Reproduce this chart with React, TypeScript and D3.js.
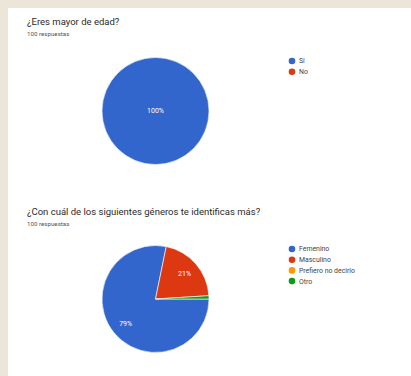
import React from "react";
import * as d3 from "d3";

const q1Categories = ["Sí", "No"];
const q1Values = [100, 0];
const q2Categories = ["Femenino", "Masculino", "Prefiero no decirlo", "Otro"];
const q2Values = [79, 21, 0, 1];
const colors = ["#3366cc", "#dc3912", "#ff9900", "#109618"];

const W = 411;
const H = 376;
const FONT = "Roboto, sans-serif";

export default function App() {
  return (
    <svg width={W} height={H} style={{ position: "absolute", left: 0, top: 0 }}>
      <rect width={W} height={H} fill="#ece6d9" />
      <rect x={8} y={8} width={W - 8} height={H - 8} fill="#ffffff" />
      <text x={27} y={25} fontSize={9.5} fill="#2a2a2a" fontFamily={FONT}>¿Eres mayor de edad?</text>
      <text x={27} y={36} fontSize={6.2} fill="#555" fontFamily={FONT}>100 respuestas</text>
      <g transform="translate(155.5,111)">
        <PieInner vals={q1Values} r={53.5} />
      </g>
      <Legend cats={q1Categories} y={61} />
      <text x={27} y={215} fontSize={9.5} fill="#2a2a2a" fontFamily={FONT}>¿Con cuál de los siguientes géneros te identificas más?</text>
      <text x={27} y={226} fontSize={6.2} fill="#555" fontFamily={FONT}>100 respuestas</text>
      <g transform="translate(155.5,299)">
        <PieInner vals={q2Values} r={53.5} />
      </g>
      <Legend cats={q2Categories} y={249} />
    </svg>
  );
}

function PieInner({ vals, r }: any) {
  const pie = d3.pie<number>().sort(null).startAngle(Math.PI / 2).endAngle(Math.PI / 2 + 2 * Math.PI);
  const arcs = pie(vals);
  const arc = d3.arc<any>().innerRadius(0).outerRadius(r);
  const labelArc = d3.arc<any>().innerRadius(r * 0.72).outerRadius(r * 0.72);
  const total = d3.sum(vals);
  return (
    <g>
      {arcs.map((a, i) =>
        a.value > 0 ? (
          <path key={i} d={arc(a) as string} fill={colors[i]} stroke="#fff" strokeWidth={0.6} />
        ) : null
      )}
      {arcs.map((a, i) => {
        if (a.value / total < 0.05) return null;
        const full = a.value === total;
        const [x, y] = full ? [0, 0] : labelArc.centroid(a);
        return (
          <text key={"l" + i} x={x} y={y} dy="0.35em" textAnchor="middle" fill="#fff" fontSize={7} fontFamily={FONT}>
            {a.value + "%"}
          </text>
        );
      })}
    </g>
  );
}

function Legend({ cats, y }: any) {
  return (
    <g>
      {cats.map((c: string, i: number) => (
        <g key={"lg" + i} transform={`translate(292,${y + i * 10.7})`}>
          <circle r={3.3} fill={colors[i]} />
          <text x={7} dy="0.35em" fontSize={6.9} fill="#444" fontFamily={FONT}>{c}</text>
        </g>
      ))}
    </g>
  );
}
